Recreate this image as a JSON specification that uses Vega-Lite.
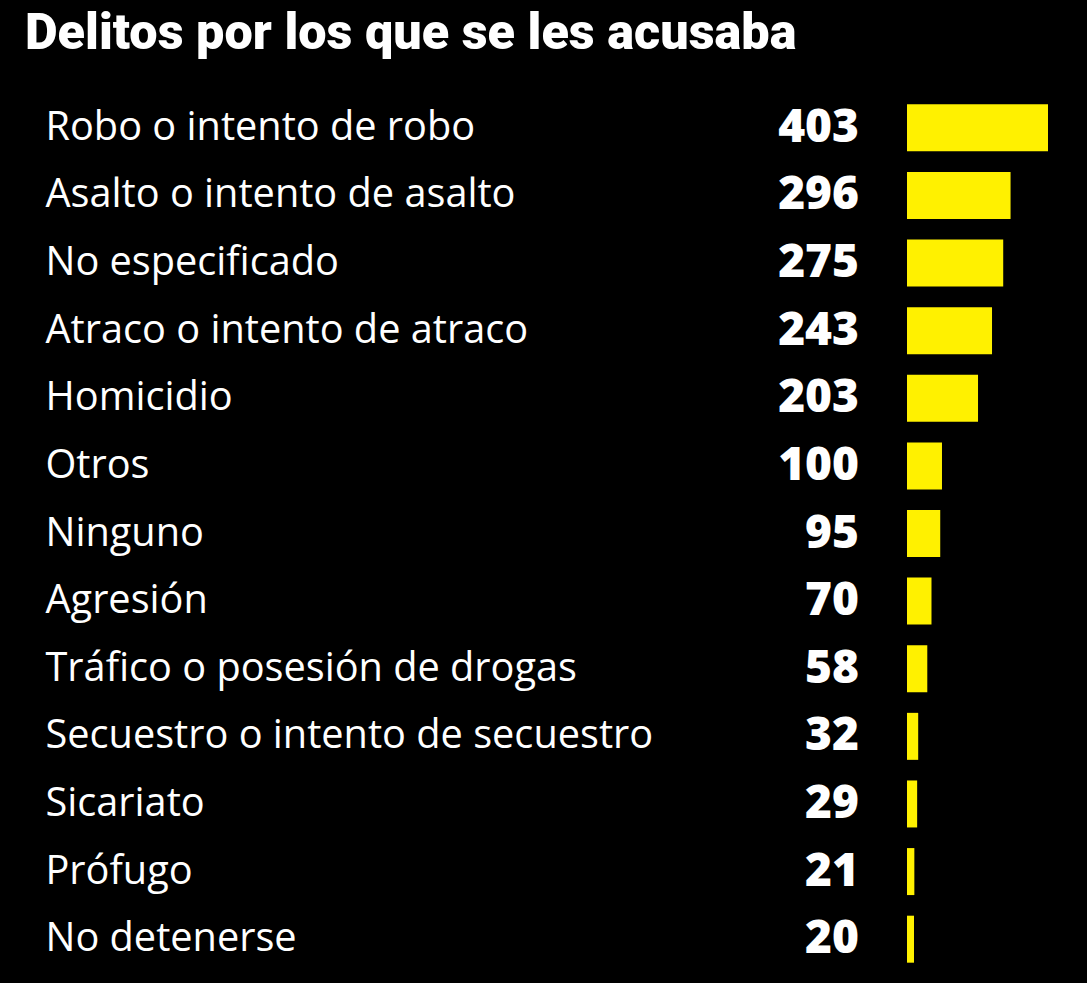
{
  "$schema": "https://vega.github.io/schema/vega-lite/v6.json",
  "width": 141,
  "height": 879,
  "autosize": {"type": "none"},
  "padding": {"left": 907, "top": 94, "right": 39, "bottom": 10},
  "background": "#000000",
  "title": {
    "text": "Delitos por los que se les acusaba",
    "anchor": "start",
    "frame": "group",
    "dx": -882,
    "dy": 51,
    "offset": 46,
    "baseline": "alphabetic",
    "font": "Roboto",
    "fontSize": 50.4,
    "fontWeight": 900,
    "color": "#ffffff"
  },
  "data": {
    "values": [
      {"delito": "Robo o intento de robo", "n": 403},
      {"delito": "Asalto o intento de asalto", "n": 296},
      {"delito": "No especificado", "n": 275},
      {"delito": "Atraco o intento de atraco", "n": 243},
      {"delito": "Homicidio", "n": 203},
      {"delito": "Otros", "n": 100},
      {"delito": "Ninguno", "n": 95},
      {"delito": "Agresión", "n": 70},
      {"delito": "Tráfico o posesión de drogas", "n": 58},
      {"delito": "Secuestro o intento de secuestro", "n": 32},
      {"delito": "Sicariato", "n": 29},
      {"delito": "Prófugo", "n": 21},
      {"delito": "No detenerse", "n": 20}
    ]
  },
  "encoding": {
    "y": {
      "field": "delito",
      "type": "nominal",
      "sort": null,
      "scale": {"paddingInner": 0.305, "paddingOuter": 0.1525},
      "axis": {
        "title": null,
        "domain": false,
        "ticks": false,
        "labelAlign": "left",
        "labelPadding": 862,
        "labelFont": "Open Sans",
        "labelFontSize": 39.7,
        "labelColor": "#ffffff",
        "labelLimit": 0
      }
    }
  },
  "layer": [
    {
      "mark": {"type": "bar", "color": "#fff100"},
      "encoding": {
        "x": {"field": "n", "type": "quantitative", "scale": {"domain": [0, 403], "nice": false}, "axis": null}
      }
    },
    {
      "mark": {"type": "text", "align": "right", "baseline": "middle", "dx": -48, "font": "Open Sans", "fontSize": 46, "fontWeight": 800, "color": "#ffffff"},
      "encoding": {
        "x": {"datum": 0, "type": "quantitative"},
        "text": {"field": "n", "type": "quantitative"}
      }
    }
  ],
  "config": {"view": {"stroke": null}}
}
